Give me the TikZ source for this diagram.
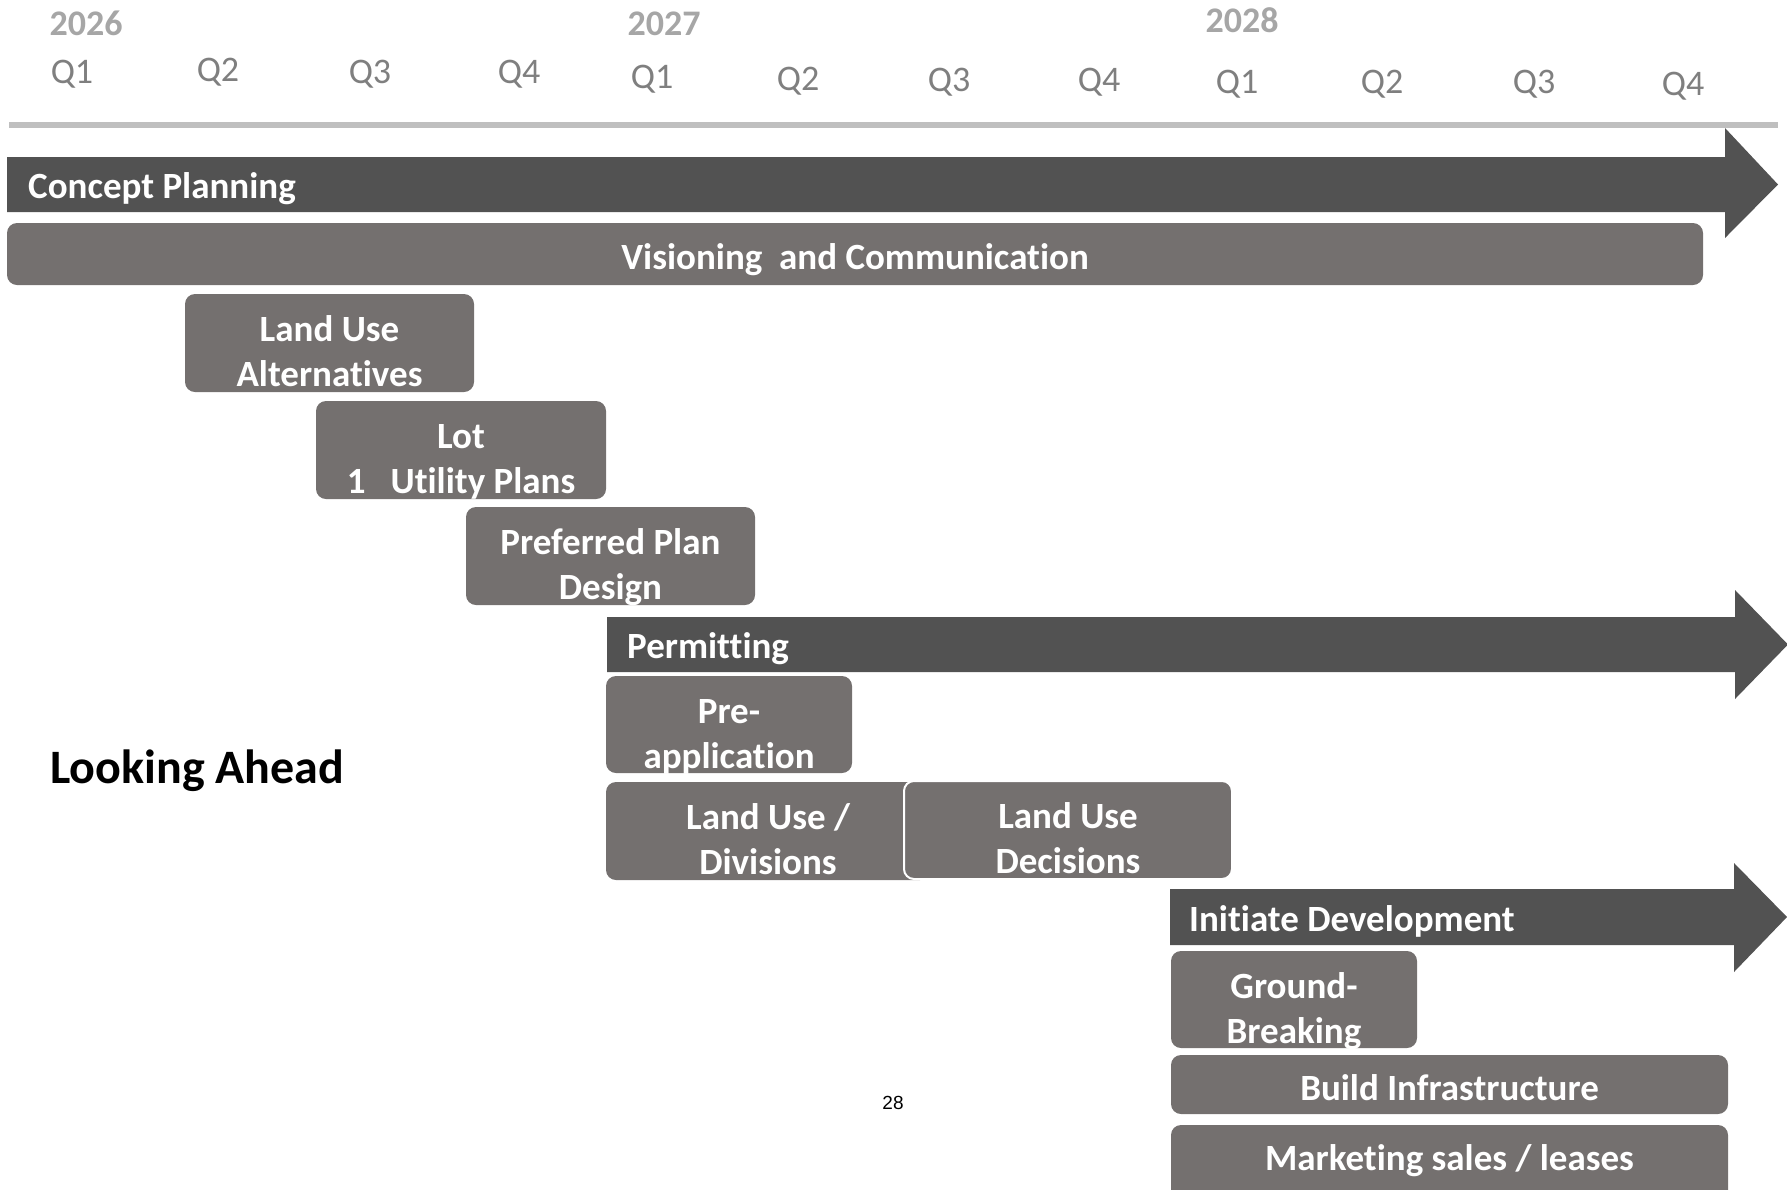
\documentclass[tikz,border=0pt]{standalone}
\usepackage{fontspec}
\usepackage{xcolor}
\usepackage{tikz}
\setmainfont[Ligatures=NoCommon]{Carlito}
\newfontfamily\pagenumfont{Liberation Sans}

\definecolor{phasegray}{RGB}{82,82,82}
\definecolor{taskgray}{RGB}{116,112,111}
\definecolor{rulegray}{RGB}{191,191,191}
\definecolor{quartergray}{RGB}{127,127,127}
\definecolor{yeargray}{RGB}{166,166,166}

\tikzset{
  phase/.style={fill=phasegray},
  phaselabel/.style={anchor=base west, inner sep=0pt, text=white,
    font=\fontsize{37}{45}\selectfont\bfseries},
  task/.style={fill=taskgray, rounded corners=10pt, inner sep=0pt,
    text=white, align=center, font=\fontsize{37}{45}\selectfont\bfseries},
  % the text box of a wrapped label sits on its last line
  oneline/.style={text height=31pt, text depth=0pt},
  twoline/.style={text height=87pt, text depth=0pt},
  quarter/.style={anchor=base, inner sep=0pt, text=quartergray,
    font=\fontsize{36}{45}\selectfont},
  year/.style={anchor=base, inner sep=0pt, text=yeargray,
    font=\fontsize{36}{45}\selectfont\bfseries},
}

\begin{document}
\begin{tikzpicture}[x=1pt, y=-1pt]
  \useasboundingbox (0,0) rectangle (1787,1189);

  % time axis
  \node[year] (y2026) at (86,35) {2026};
  \node[year] (y2027) at (664,35) {2027};
  \node[year] (y2028) at (1242,32) {2028};
  \foreach \x/\y/\q in {72/83/Q1, 218/81/Q2, 370/83/Q3, 519/83/Q4,
                        652/88/Q1, 798/90/Q2, 949/91/Q3, 1099/91/Q4,
                        1237/93/Q1, 1382/93/Q2, 1534/93/Q3, 1683/95/Q4}
    \node[quarter] (q\x) at (\x,\y) {\q};
  \draw[rulegray, line width=6pt]
    (9,125) coordinate (axis start) -- (1778,125) coordinate (axis end);

  % concept planning
  \fill[phase]
    (7,157) -- (1725,157) -- (1725,128) -- (1778,184.5)
    -- (1725,238) -- (1725,212) -- (7,212) -- cycle;
  \node[phaselabel] (concept) at (28,198) {Concept Planning};
  \node[task, oneline, minimum width=1696pt, minimum height=62pt]
    (vision) at (855,254) {Visioning~ and Communication};
  \node[task, twoline, minimum width=289pt, minimum height=98pt]
    (landalt) at (329.5,343) {Land Use\\Alternatives};
  \node[task, twoline, minimum width=290pt, minimum height=98pt]
    (lotutil) at (461,450) {Lot\\1~~~Utility Plans};
  \node[task, twoline, minimum width=289pt, minimum height=98pt]
    (prefplan) at (610.5,556) {Preferred Plan\\Design};

  % permitting
  \fill[phase]
    (607,617) -- (1735,617) -- (1735,590) -- (1788,644.5)
    -- (1735,699) -- (1735,672) -- (607,672) -- cycle;
  \node[phaselabel] (permit) at (627,658) {Permitting};
  \node[task, twoline, minimum width=246pt, minimum height=97pt]
    (preapp) at (729,724.5) {Pre-\\application};
  \node[task, twoline, minimum width=324pt, minimum height=98pt]
    (divisions) at (768,831) {Land Use /\\Divisions};
  \node[task, twoline, draw=white, line width=2pt,
        minimum width=328pt, minimum height=98pt]
    (decisions) at (1068,830) {Land Use\\Decisions};

  % initiate development
  \fill[phase]
    (1170,889) -- (1734,889) -- (1734,863) -- (1787,917)
    -- (1734,972) -- (1734,945) -- (1170,945) -- cycle;
  \node[phaselabel] (initiate) at (1189,931) {Initiate Development};
  \node[task, twoline, minimum width=246pt, minimum height=97pt]
    (ground) at (1294,999.5) {Ground-\\Breaking};
  \node[task, oneline, minimum width=557pt, minimum height=59pt]
    (build) at (1449.5,1084.5) {Build Infrastructure};
  % runs off the bottom of the page
  \node[task, oneline, text height=11pt, minimum width=557pt, minimum height=80pt]
    (market) at (1449.5,1165) {Marketing sales / leases};

  \node[anchor=base west, inner sep=0pt,
        font=\fontsize{48}{58}\selectfont\bfseries]
    (title) at (50,783) {Looking Ahead};
  \node[inner sep=0pt, font=\pagenumfont\fontsize{19}{23}\selectfont]
    (pagenum) at (893,1103) {28};
\end{tikzpicture}
\end{document}
